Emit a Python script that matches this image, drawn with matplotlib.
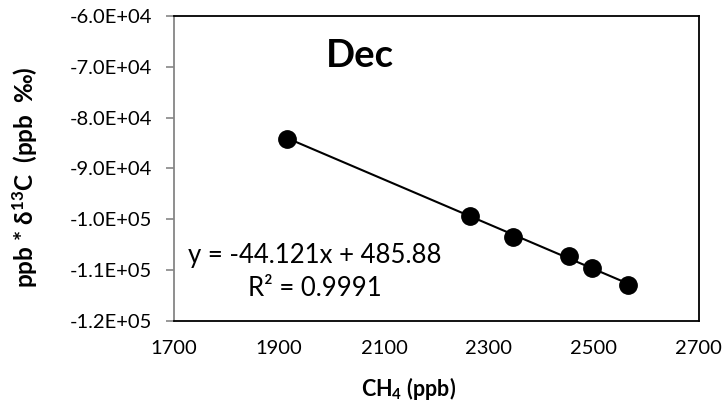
import numpy as np
import matplotlib
matplotlib.use("Agg")
import matplotlib.pyplot as plt

plt.rcParams['font.family'] = ['Lato', 'DejaVu Sans']
plt.rcParams['mathtext.fontset'] = 'custom'
plt.rcParams['mathtext.rm'] = 'Lato'
plt.rcParams['mathtext.bf'] = 'Lato:bold'
plt.rcParams['mathtext.default'] = 'bf'

# CH4 mixing ratio (ppb) and the product ppb * d13C (ppb permil)
ch4_ppb = [1916, 2264, 2346, 2452, 2496, 2565]
ppb_d13c = [-84140, -99280, -103560, -107310, -109540, -112950]

# Linear fit shown on the chart
slope = -44.121
intercept = 485.88
r_squared = 0.9991

x_ticks = [1700, 1900, 2100, 2300, 2500, 2700]
y_ticks = [-120000, -110000, -100000, -90000, -80000, -70000, -60000]
y_tick_labels = ['-1.2E+05', '-1.1E+05', '-1.0E+05', '-9.0E+04',
                 '-8.0E+04', '-7.0E+04', '-6.0E+04']

fig = plt.figure(figsize=(7.28, 4.04), dpi=100)
ax = fig.add_axes([0.239, 0.206, 0.721, 0.754])

fit_x = np.array([min(ch4_ppb), max(ch4_ppb)])
ax.plot(fit_x, slope * fit_x + intercept, color='black', lw=1.5, zorder=2)
ax.plot(ch4_ppb, ppb_d13c, 'o', color='black', markersize=12.5, zorder=3)

ax.set_xlim(1700, 2700)
ax.set_ylim(-120000, -60000)
ax.set_xticks(x_ticks)
ax.set_xticklabels([str(v) for v in x_ticks])
ax.set_yticks(y_ticks)
ax.set_yticklabels(y_tick_labels)

for side in ['top', 'right', 'bottom']:
    ax.spines[side].set_color('black')
    ax.spines[side].set_linewidth(1.3)
ax.spines['left'].set_color('#868686')
ax.spines['left'].set_linewidth(1.3)

ax.tick_params(axis='y', direction='out', length=6, width=1.2,
               color='#868686', labelsize=14.5, pad=10)
ax.tick_params(axis='x', length=0, labelsize=14.5, pad=14)

# Axis titles
fig.text(409 / 728, 0.020, 'CH$_4$ (ppb)', fontsize=15.5, fontweight='bold',
         ha='center', va='baseline')
fig.text(25 / 728, 0.561, 'ppb * δ$^{13}$C  (ppb  ‰)', fontsize=17.5,
         fontweight='bold', rotation=90, ha='center', va='center')

ax.text(0.29, 0.87, 'Dec', transform=ax.transAxes, fontsize=27.5,
        fontweight='bold', ha='left', va='center')
ax.text(0.027, 0.215, f'y = {slope}x + {intercept}', transform=ax.transAxes,
        fontsize=18.5, ha='left', va='center')
ax.text(0.141, 0.107, f'R² = {r_squared}', transform=ax.transAxes,
        fontsize=18.5, ha='left', va='center')

fig.savefig('out.png', dpi=100)
